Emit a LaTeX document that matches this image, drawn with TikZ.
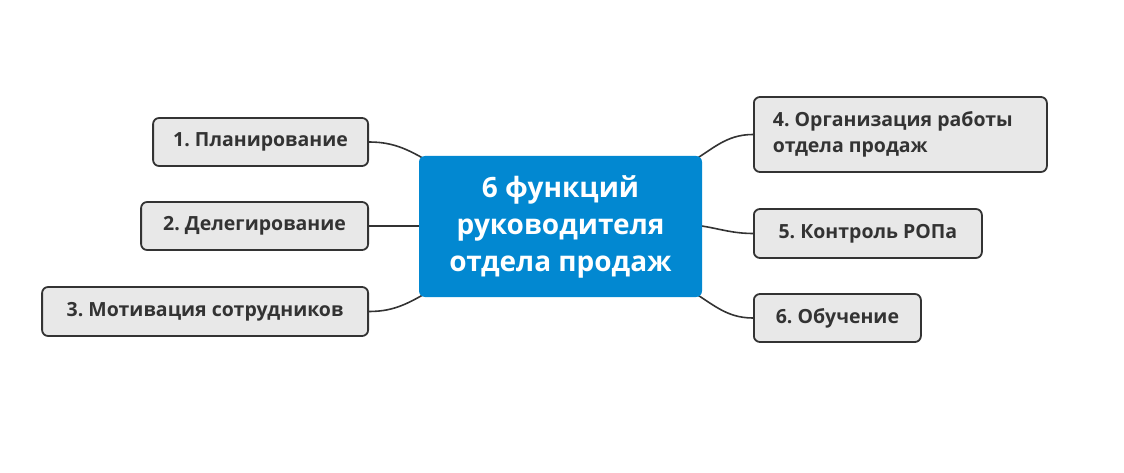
\documentclass[tikz,border=0pt]{standalone}
\usepackage{fontspec}
\setmainfont{Open Sans}
\usetikzlibrary{backgrounds}
\definecolor{mainblue}{RGB}{2,136,209}
\definecolor{boxgray}{RGB}{232,232,232}
\definecolor{inkgray}{RGB}{51,51,51}
\frenchspacing
\begin{document}
\begin{tikzpicture}[x=1pt, y=-1pt, line cap=round, line join=round,
    topic/.style={draw=inkgray, fill=boxgray, line width=1.8pt, rounded corners=6pt,
      text=inkgray, font=\fontsize{19.5}{26}\selectfont\bfseries, minimum height=48pt, inner xsep=19pt},
    hub/.style={fill=mainblue, rounded corners=6pt, text=white, align=center,
      font=\fontsize{28}{37}\selectfont\bfseries, minimum width=283pt, minimum height=141pt},
    link/.style={draw=inkgray, line width=1.6pt}]
  \useasboundingbox (0,0) rectangle (1124,473);
  \node[hub] (main) at (560.5,226.5) {6 функций\\руководителя\\отдела продаж};
  % left side
  \node[topic, anchor=east, minimum width=215pt] (plan) at (369,142) {1. Планирование};
  \node[topic, anchor=east, minimum width=227pt] (deleg) at (369,226) {2. Делегирование};
  \node[topic, anchor=east, minimum width=326pt, minimum height=49pt] (motiv) at (369,311.5) {3. Мотивация сотрудников};
  % right side
  \node[topic, anchor=west, minimum width=293pt, minimum height=75pt, text width=255pt, align=flush left] (org) at (753,134.5) {4. Организация работы\\отдела продаж};
  \node[topic, anchor=west, minimum width=228pt, minimum height=49pt] (control) at (753,233.5) {5. Контроль РОПа};
  \node[topic, anchor=west, minimum width=167pt] (teach) at (753,318) {6. Обучение};
  \begin{scope}[on background layer]
    \draw[link] (plan.east) to[out=0, in=150] ([shift={(14,8)}]main.north west);
    \draw[link] (deleg.east) -- (deleg.east -| main.center);
    \draw[link] (motiv.east) to[out=0, in=-150] ([shift={(14,-8)}]main.south west);
    \draw[link] (org.west) to[out=180, in=30] ([shift={(-14,8)}]main.north east);
    \draw[link] (control.west) to[out=180, in=0] ([shift={(-20,-2)}]main.east);
    \draw[link] (teach.west) to[out=180, in=-30] ([shift={(-14,-8)}]main.south east);
  \end{scope}
\end{tikzpicture}
\end{document}
